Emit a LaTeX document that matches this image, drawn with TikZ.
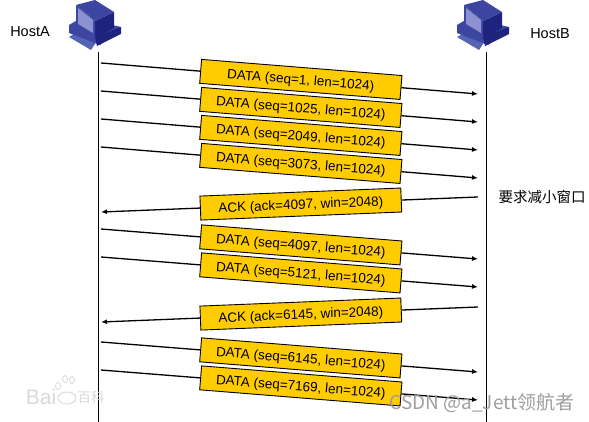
\documentclass[tikz,border=0pt]{standalone}
\usepackage{fontspec}
\setmainfont{Liberation Sans}
\newfontfamily\cjk{Noto Sans CJK SC}
\usetikzlibrary{arrows.meta,positioning,calc}
\definecolor{boxyellow}{RGB}{255,204,0}
\definecolor{hostdark}{RGB}{30,35,125}
\definecolor{hostmid}{RGB}{60,70,160}
\definecolor{hostlight}{RGB}{85,100,180}
\definecolor{hostscreen}{RGB}{140,145,210}
\newcommand{\hosticon}[1]{%
  \begin{scope}[shift={(#1)}]
    \fill[hostlight] (-24,36) -- (-9,27) -- (6,37) -- (-2,49) -- cycle;
    \fill[hostmid] (-24,24) -- (-12,17) -- (28,26) -- (7,44) -- (-24,32) -- cycle;
    \fill[hostdark] (2,36) -- (28,26) -- (28,33) -- (4,45) -- cycle;
    \fill[hostdark] (2,20) -- (21,11) -- (21,27) -- (2,38) -- cycle;
    \fill[hostmid] (-17,4) -- (2,-1) -- (21,11) -- (2,20) -- cycle;
    \fill[hostmid] (-17,4) -- (2,20) -- (2,38) -- (-17,26) -- cycle;
    \fill[hostscreen] (-15,7) -- (0,19) -- (0,32) -- (-15,23) -- cycle;
  \end{scope}}
\begin{document}
\begin{tikzpicture}[x=1pt,y=-1pt,
    msgbox/.style={draw, line width=0.9pt, fill=boxyellow, align=center, minimum width=201pt, minimum height=24pt, inner sep=0pt, text height=10.5pt, text depth=0.3pt, font=\fontsize{13.5}{15}\selectfont},
    arrow/.style={-{Latex[length=6pt,width=5pt]}, line width=1.3pt},
    plainline/.style={line width=1.3pt},
    lifeline/.style={line width=0.9pt},
    hostlabel/.style={font=\fontsize{14.5}{16}\selectfont, inner sep=0pt},
    marktext/.style={text=black!38, inner sep=0pt},
    pawpart/.style={draw=black!15, line width=0.9pt}
]
\useasboundingbox (0,0) rectangle (589,422);
\hosticon{93,1}
\hosticon{481,1}
\node[hostlabel] (hosta) at (30,32) {HostA};
\node[hostlabel] (hostb) at (550,34) {HostB};
\node[hostlabel, font=\cjk\fontsize{14.5}{16}\selectfont] (note) at (542,197) {要求减小窗口};
% life lines
\coordinate (atop) at (98,52);
\coordinate (abot) at (98,422);
\coordinate (btop) at (486,52);
\coordinate (bbot) at (486,422);
\draw[lifeline] (atop) -- (abot);
\draw[lifeline] (btop) -- (bbot);
% watermark under the messages
\node[marktext, font=\fontsize{21}{23}\selectfont, text=black!15] (baidu) at (41,397) {Bai};
\node[marktext, font=\cjk\fontsize{13.5}{15}\selectfont, text=black!15] (baike) at (91,397) {百科};
\draw[pawpart] (67,398) ellipse (9pt and 6pt);
\draw[pawpart] (58,386) ellipse (2.5pt and 3.5pt);
\draw[pawpart] (65,379) ellipse (2.5pt and 3.5pt);
\draw[pawpart] (72,380) ellipse (2.5pt and 3.5pt);
% messages A to B
\foreach \name/\ya/\yb/\txt in {d1/63/94/{seq=1, len=1024},d2/91/122/{seq=1025, len=1024},d3/119/150/{seq=2049, len=1024},d4/147/178/{seq=3073, len=1024},d5/229/259/{seq=4097, len=1024},d6/257/287/{seq=5121, len=1024},d7/342/372/{seq=6145, len=1024},d8/370/400/{seq=7169, len=1024}}{
  \coordinate (\name a) at (101,\ya);
  \coordinate (\name b) at (478,\yb);
  \node[msgbox, rotate=-4.6] (\name) at ($(\name a)!0.53!(\name b)$) {DATA (\txt)};
  \draw[plainline] (\name a) -- (\name);
  \draw[arrow] (\name) -- (\name b);
}
% messages B to A
\foreach \name/\ya/\yb/\txt in {k1/212/197/{ack=4097, win=2048},k2/322/307/{ack=6145, win=2048}}{
  \coordinate (\name a) at (101,\ya);
  \coordinate (\name b) at (478,\yb);
  \node[msgbox, rotate=2.3] (\name) at ($(\name a)!0.53!(\name b)$) {ACK (\txt)};
  \draw[plainline] (\name b) -- (\name);
  \draw[arrow] (\name) -- (\name a);
}
\node[marktext, font=\cjk\fontsize{19}{21}\selectfont] (csdn) at (482,403) {CSDN @a\_Jett领航者};
\end{tikzpicture}
\end{document}
